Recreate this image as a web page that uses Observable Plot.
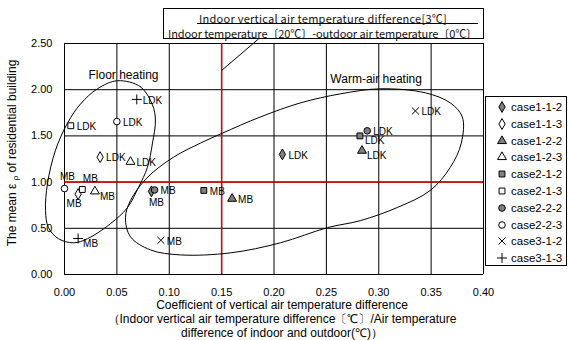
<!DOCTYPE html>
<html><head><meta charset="utf-8">
<script src="https://cdn.jsdelivr.net/npm/d3@7"></script>
<script src="https://cdn.jsdelivr.net/npm/@observablehq/plot@0.6"></script>
<style>
body{margin:0;background:#fff;}
#wrap{position:relative;width:568px;height:340px;font-family:"Liberation Sans",Arial,sans-serif;color:#000;overflow:hidden;background:#fff}
#wrap svg{position:absolute;left:0;top:0}
.abs{position:absolute;white-space:nowrap}
#tbox{left:163px;top:8px;width:319px;height:29px;border:1px solid #000;background:#fff;font-family:"Noto Sans CJK JP",sans-serif;font-size:11px;line-height:12px;font-weight:400;color:#111}
#legend{left:485px;top:96px;width:80px;height:168px;border:1px solid #000;background:#fff;font-size:11.5px}
.lg{position:absolute;left:0;height:14px;line-height:14px;display:flex;align-items:center}
#xt{left:0;top:298px;width:564px;text-align:center;font-size:12px;line-height:14px}
#yt{left:12px;top:153px;transform:translate(-50%,-50%) rotate(-90deg);font-size:12px}
</style></head><body><div id="wrap"></div>
<script>
// ---- data ----
const cases = ["case1-1-2","case1-1-3","case1-2-2","case1-2-3","case2-1-2","case2-1-3","case2-2-2","case2-2-3","case3-1-2","case3-1-3"];
const caseSymbols = ["diamond","diamond","triangle","triangle","square","square","circle","circle","times","plus"];
const caseFills = ["#808080","#ffffff","#808080","#ffffff","#808080","#ffffff","#808080","#ffffff","none","none"];
const ldkX = [0.208, 0.034, 0.284, 0.063, 0.282, 0.006, 0.289, 0.050, 0.335, 0.069];
const ldkY = [1.30, 1.27, 1.34, 1.22, 1.50, 1.61, 1.555, 1.655, 1.77, 1.895];
const mbX  = [0.083, 0.013, 0.160, 0.029, 0.133, 0.017, 0.086, 0.000, 0.092, 0.013];
const mbY  = [0.90, 0.87, 0.82, 0.90, 0.91, 0.92, 0.915, 0.93, 0.37, 0.39];
const ldkPlace = ["r","r","rb","r","rb","r","r","r","r","r"];
const mbPlace  = ["b","bl","r","rb","r","ar","r","a","r","rb"];
const xTicks = [0,0.05,0.10,0.15,0.20,0.25,0.30,0.35,0.40];
const yTicks = [0,0.5,1.0,1.5,2.0,2.5];
const refX = [0.15];
const refY = [1.0];
const floorX = [0.0506,0.0725,0.0840,0.0868,0.0840,0.0792,0.0706,0.0601,0.0439,0.0219,0.0086,-0.0057,-0.0153,-0.0181,-0.0162,-0.0086,0.0029,0.0153,0.0315];
const floorY = [2.097,2.032,1.835,1.672,1.422,1.160,0.942,0.724,0.550,0.387,0.343,0.387,0.507,0.692,0.986,1.345,1.639,1.846,2.010];
const warmX = [0.0630,0.0792,0.1040,0.1298,0.1508,0.1870,0.2252,0.2634,0.3015,0.3445,0.3683,0.3798,0.3788,0.3683,0.3492,0.3177,0.2824,0.2510,0.2061,0.1584,0.1107,0.0821,0.0630,0.0582];
const warmY = [0.801,1.051,1.269,1.422,1.530,1.705,1.857,1.955,2.010,1.966,1.857,1.705,1.422,1.160,0.910,0.725,0.583,0.507,0.343,0.234,0.212,0.266,0.408,0.615];
const regionNames = ["Floor heating","Warm-air heating"];
const regionX = [0.0563, 0.2975];
const regionY = [2.158, 2.115];
const leaderFrom = [0.1854, 2.551];
const leaderTo = [0.15, 2.208];
const boxLine1 = "Indoor vertical air temperature difference[3℃]";
const boxLine2 = "Indoor temperature〔20℃〕-outdoor air temperature〔0℃〕";
const xTitle = ["Coefficient of vertical air temperature difference","（Indoor vertical air temperature difference〔℃〕/Air temperature","difference of indoor and outdoor(℃)）"];

// ---- build ----
const pts = [];
cases.forEach((c,i)=>{
  pts.push({c, x:ldkX[i], y:ldkY[i], label:"LDK", place:ldkPlace[i]});
  pts.push({c, x:mbX[i], y:mbY[i], label:"MB", place:mbPlace[i]});
});
const floor = floorX.map((x,i)=>({x, y:floorY[i]}));
const warm = warmX.map((x,i)=>({x, y:warmY[i]}));
const regions = regionNames.map((t,i)=>({t, x:regionX[i], y:regionY[i]}));
const places = {
  r:{dx:6,dy:1,textAnchor:"start"}, rb:{dx:5,dy:5,textAnchor:"start"},
  b:{dx:5,dy:11,textAnchor:"middle"}, bl:{dx:-4,dy:10,textAnchor:"middle"},
  ar:{dx:8,dy:-11,textAnchor:"middle"}, a:{dx:3,dy:-12,textAnchor:"middle"}
};
const textMarks = Object.entries(places).map(([k,o]) =>
  Plot.text(pts.filter(d=>d.place===k), {x:"x", y:"y", text:"label", fill:"#000", fontSize:10, ...o}));

const chart = Plot.plot({
  width:568, height:340, marginLeft:64, marginRight:85, marginTop:43, marginBottom:66,
  style:{fontFamily:"Liberation Sans, Arial, sans-serif", fontSize:"11px", color:"#000", background:"transparent", overflow:"visible"},
  x:{domain:[0,0.4], ticks:xTicks, tickFormat:d=>d.toFixed(2), tickSize:0, tickPadding:14, label:null},
  y:{domain:[0,2.5], ticks:yTicks, tickFormat:d=>d.toFixed(2), tickSize:0, tickPadding:12, label:null},
  symbol:{domain:cases, range:caseSymbols},
  color:{domain:cases, range:caseFills},
  marks:[
    Plot.ruleX(xTicks, {stroke:"#000", strokeWidth:1}),
    Plot.ruleY(yTicks, {stroke:"#000", strokeWidth:1}),
    Plot.ruleX(refX, {stroke:"#e00000", strokeWidth:1.5}),
    Plot.ruleY(refY, {stroke:"#e00000", strokeWidth:1.5}),
    Plot.line(floor, {x:"x", y:"y", curve:"catmull-rom-closed", stroke:"#000", strokeWidth:1}),
    Plot.line(warm, {x:"x", y:"y", curve:"catmull-rom-closed", stroke:"#000", strokeWidth:1}),
    Plot.link([0], {x1:()=>leaderFrom[0], y1:()=>leaderFrom[1], x2:()=>leaderTo[0], y2:()=>leaderTo[1], stroke:"#000"}),
    Plot.text(regions, {x:"x", y:"y", text:"t", fontSize:12, fill:"#000"}),
    Plot.dot(pts, {x:"x", y:"y", symbol:"c", fill:"c", stroke:"#000", strokeWidth:1, r:3.3}),
    ...textMarks
  ]
});

const wrap = document.getElementById("wrap");
wrap.appendChild(chart);

// title box
const tb = document.createElement("div"); tb.id="tbox"; tb.className="abs";
tb.innerHTML = `<div class="abs" id="tl1" style="left:35px;top:3px">${boxLine1}</div>
<div class="abs" style="left:33px;top:14px;width:281px;border-top:1px solid #000"></div>
<div class="abs" id="tl2" style="left:4px;top:18px">${boxLine2}</div>`;
wrap.appendChild(tb);
function fit(el, target){ const w = el.getBoundingClientRect().width; const n = el.textContent.length; el.style.letterSpacing = ((target-w)/n)+"px"; }
fit(document.getElementById("tl1"), 248);
fit(document.getElementById("tl2"), 309);

// x title
const xt = document.createElement("div"); xt.id="xt"; xt.className="abs";
xt.innerHTML = xTitle.map(s=>`<div>${s}</div>`).join("");
wrap.appendChild(xt);

// y title
const yt = document.createElement("div"); yt.id="yt"; yt.className="abs";
yt.innerHTML = `The mean ε <span style="font-size:8px;position:relative;top:2px">ρ</span> of residential building`;
wrap.appendChild(yt);

// legend
const lg = document.createElement("div"); lg.id="legend"; lg.className="abs";
const symMap = {diamond:d3.symbolDiamond, triangle:d3.symbolTriangle, square:d3.symbolSquare, circle:d3.symbolCircle, times:d3.symbolTimes, plus:d3.symbolPlus};
cases.forEach((c,i)=>{
  const row = document.createElement("div"); row.className="lg";
  row.style.top = (3 + i*16.8) + "px";
  const path = d3.symbol(symMap[caseSymbols[i]], Math.PI*3.3*3.3)();
  row.innerHTML = `<svg width="24" height="14" style="position:static"><path transform="translate(16,7)" d="${path}" fill="${caseFills[i]}" stroke="#000" stroke-width="1"/></svg><span style="margin-left:1px">${c}</span>`;
  lg.appendChild(row);
});
wrap.appendChild(lg);
</script>
</body></html>
